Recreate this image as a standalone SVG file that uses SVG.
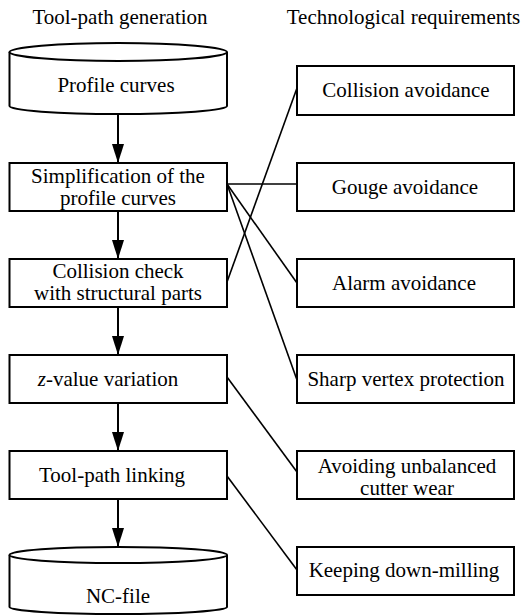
<svg xmlns="http://www.w3.org/2000/svg" width="524" height="616" viewBox="0 0 524 616">
<defs>
<style>
.box{fill:#fff;stroke:#000;stroke-width:2}
.t{font-size:21px;fill:#000;text-anchor:middle}
.h{font-size:21px;fill:#000;text-anchor:middle}
.ln{stroke:#000;stroke-width:1.6;fill:none}
.ar{stroke:#000;stroke-width:2;fill:none;marker-end:url(#ah)}
</style>
<marker id="ah" markerUnits="userSpaceOnUse" markerWidth="19" markerHeight="12" refX="19" refY="6" viewBox="0 0 19 12" orient="auto">
<path d="M0,0 L19,6 L0,12 Z" fill="#000"/>
</marker>
</defs>
<rect width="524" height="616" fill="#fff"/>
<g font-family="'Liberation Serif', 'Times New Roman', Times, serif">
<text class="h" x="120" y="24">Tool-path generation</text>
<text class="h" x="403.5" y="24">Technological requirements</text>

<g id="connectors">
<line class="ar" x1="118" y1="114" x2="118" y2="163"/>
<line class="ar" x1="118" y1="211" x2="118" y2="259"/>
<line class="ar" x1="118" y1="307" x2="118" y2="355"/>
<line class="ar" x1="118" y1="403" x2="118" y2="451"/>
<line class="ar" x1="118" y1="499" x2="118" y2="547"/>
<line class="ln" x1="227" y1="282" x2="297" y2="88"/>
<line class="ln" x1="227" y1="184" x2="297" y2="184"/>
<line class="ln" x1="227" y1="184" x2="297" y2="283"/>
<line class="ln" x1="227" y1="184" x2="297" y2="380"/>
<line class="ln" x1="227" y1="377" x2="297" y2="472"/>
<line class="ln" x1="227" y1="476" x2="297" y2="570"/>
</g>

<g id="profile-curves">
<path class="box" d="M9.5,52 L9.5,106 A108.5,8 0 0 0 227,106 L227,52"/>
<ellipse class="box" cx="118.25" cy="52" rx="108.75" ry="9"/>
<text class="t" x="116" y="92">Profile curves</text>
</g>

<g id="simplification">
<rect class="box" x="9.5" y="163" width="217.5" height="48"/>
<text class="t" x="118" y="183">Simplification of the</text>
<text class="t" x="118" y="205">profile curves</text>
</g>

<g id="collision-check">
<rect class="box" x="9.5" y="259" width="217.5" height="48"/>
<text class="t" x="118" y="278">Collision check</text>
<text class="t" x="118" y="300">with structural parts</text>
</g>

<g id="z-value">
<rect class="box" x="9.5" y="355" width="217.5" height="48"/>
<text class="t" x="108" y="386"><tspan font-style="italic">z</tspan>-value variation</text>
</g>

<g id="tool-path-linking">
<rect class="box" x="9.5" y="451" width="217.5" height="48"/>
<text class="t" x="112" y="482">Tool-path linking</text>
</g>

<g id="nc-file">
<path class="box" d="M9.5,555 L9.5,607 A108.5,7 0 0 0 227,607 L227,555"/>
<ellipse class="box" cx="118.25" cy="555" rx="108.75" ry="8"/>
<text class="t" x="118" y="603">NC-file</text>
</g>

<g id="collision-avoidance">
<rect class="box" x="297" y="66" width="217" height="49"/>
<text class="t" x="406" y="97">Collision avoidance</text>
</g>

<g id="gouge-avoidance">
<rect class="box" x="297" y="163" width="217" height="48"/>
<text class="t" x="405" y="194">Gouge avoidance</text>
</g>

<g id="alarm-avoidance">
<rect class="box" x="297" y="259" width="217" height="48"/>
<text class="t" x="404" y="290">Alarm avoidance</text>
</g>

<g id="sharp-vertex">
<rect class="box" x="297" y="355" width="217" height="48"/>
<text class="t" x="406" y="386">Sharp vertex protection</text>
</g>

<g id="unbalanced-wear">
<rect class="box" x="297" y="451" width="217" height="48"/>
<text class="t" x="407" y="473">Avoiding unbalanced</text>
<text class="t" x="407" y="495">cutter wear</text>
</g>

<g id="down-milling">
<rect class="box" x="297" y="547" width="217" height="48"/>
<text class="t" x="404" y="577">Keeping down-milling</text>
</g>
</g>
</svg>
